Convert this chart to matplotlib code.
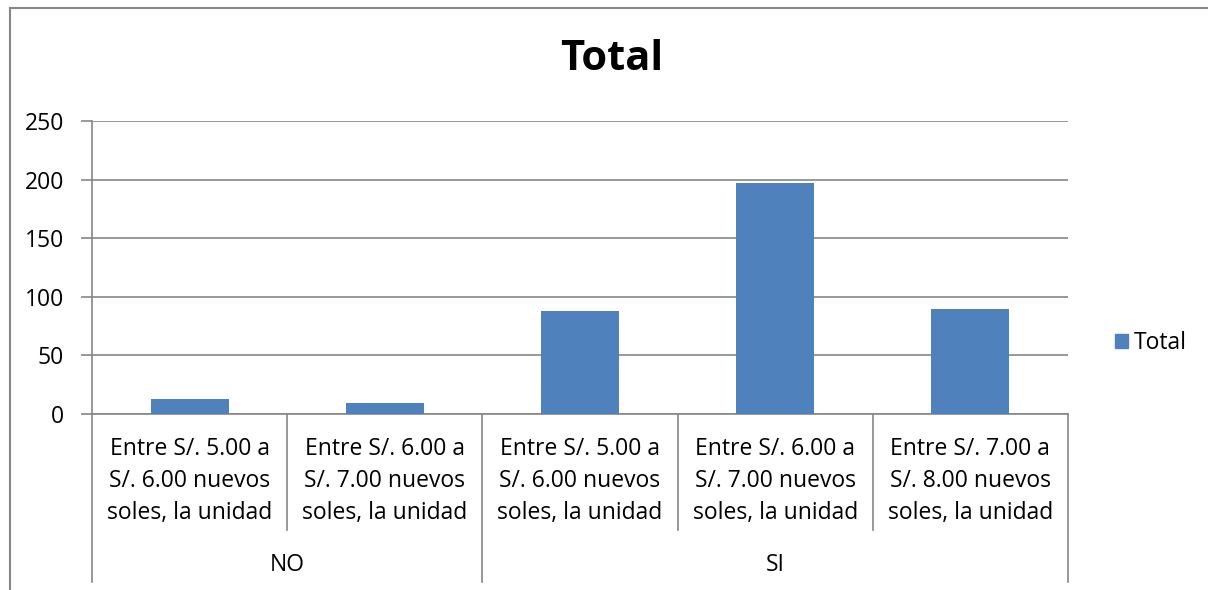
import matplotlib.pyplot as plt
from matplotlib.lines import Line2D
from matplotlib.patches import Patch

plt.rcParams['font.family'] = ['Open Sans', 'DejaVu Sans']

# Category labels and values
categorias = [
    "Entre S/. 5.00 a\nS/. 6.00 nuevos\nsoles, la unidad",
    "Entre S/. 6.00 a\nS/. 7.00 nuevos\nsoles, la unidad",
    "Entre S/. 5.00 a\nS/. 6.00 nuevos\nsoles, la unidad",
    "Entre S/. 6.00 a\nS/. 7.00 nuevos\nsoles, la unidad",
    "Entre S/. 7.00 a\nS/. 8.00 nuevos\nsoles, la unidad",
]
grupos = ["NO", "SI"]
tamano_grupo = [2, 3]
totales = [13, 9, 88, 197, 90]

color_barra = '#4F81BD'
gris = '#868686'

fig = plt.figure(figsize=(12.08, 5.9), dpi=100)
W, H = 1208, 590
ax = fig.add_axes([92 / W, 1 - 414 / H, (1068 - 92) / W, (414 - 121) / H])

x = list(range(len(totales)))
ax.bar(x, totales, width=0.4, color=color_barra, zorder=3)

ax.set_xlim(-0.5, len(totales) - 0.5)
ax.set_ylim(0, 250)
ax.set_yticks(range(0, 251, 50))
ax.yaxis.grid(True, color=gris, linewidth=1.2, zorder=0)
ax.tick_params(axis='y', length=8, width=1.2, color=gris, labelsize=16.5, pad=12)
ax.set_xticks([])
for s in ['top', 'right']:
    ax.spines[s].set_visible(False)
for s in ['left', 'bottom']:
    ax.spines[s].set_color(gris)
    ax.spines[s].set_linewidth(1.2)

# Multi-level category axis
bajo_cat = -(530 - 414) / 293
bajo_grp = -(582 - 414) / 293
bordes_grupo = [-0.5]
for n in tamano_grupo:
    bordes_grupo.append(bordes_grupo[-1] + n)
for i in range(len(totales) + 1):
    xi = i - 0.5
    fondo = bajo_grp if xi in bordes_grupo else bajo_cat
    ax.add_line(Line2D([xi, xi], [0, fondo], color=gris, linewidth=1.2,
                       transform=ax.get_xaxis_transform(), clip_on=False))
for xi, etiqueta in zip(x, categorias):
    ax.text(xi, -(481 - 414) / 293, etiqueta, ha='center', va='center',
            fontsize=16.5, linespacing=1.45, transform=ax.get_xaxis_transform())
for g, etiqueta in enumerate(grupos):
    centro = (bordes_grupo[g] + bordes_grupo[g + 1]) / 2
    ax.text(centro, -(565 - 414) / 293, etiqueta, ha='center', va='center',
            fontsize=16.5, transform=ax.get_xaxis_transform())

fig.text(612 / W, 1 - 60 / H, "Total", ha='center', va='center',
         fontsize=30, fontweight='bold')

fig.legend(handles=[Patch(color=color_barra, label='Total')],
           loc='center left', bbox_to_anchor=(1094 / W, 1 - 343 / H),
           frameon=False, fontsize=16.5, handlelength=0.6, handleheight=0.6,
           handletextpad=0.25)

# Chart area border
fig.add_artist(Line2D([9.5 / W, 9.5 / W], [0, 1 - 7.5 / H], color=gris, linewidth=1.5))
fig.add_artist(Line2D([9.5 / W, 1], [1 - 7.5 / H, 1 - 7.5 / H], color=gris, linewidth=1.5))

fig.savefig('out.png', dpi=100, facecolor='white')
